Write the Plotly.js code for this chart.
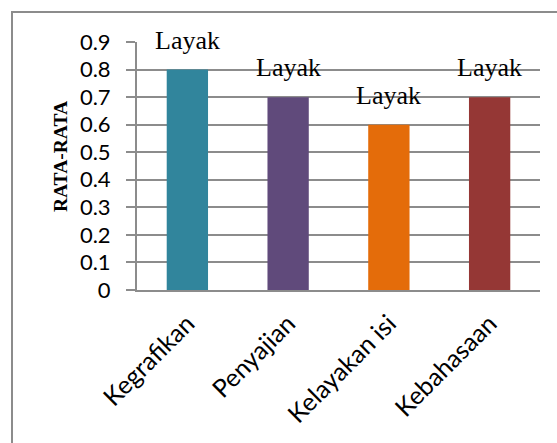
<!DOCTYPE html>
<html>
<head>
<meta charset="utf-8">
<script src="https://cdn.plot.ly/plotly-3.0.1.min.js"></script>
<style>html,body{margin:0;padding:0;background:#fff;}#chart{width:557px;height:443px;}</style>
</head>
<body>
<div id="chart"></div>
<script>
const categories = ["Kegrafikan", "Penyajian", "Kelayakan isi", "Kebahasaan"];
const values = [0.8, 0.7, 0.6, 0.7];
const labels = ["Layak", "Layak", "Layak", "Layak"];
const barColors = ["#31859C", "#604A7B", "#E46C0A", "#953735"];
const yTicks = [0, 0.1, 0.2, 0.3, 0.4, 0.5, 0.6, 0.7, 0.8, 0.9];
const yTickText = ["0", "0.1", "0.2", "0.3", "0.4", "0.5", "0.6", "0.7", "0.8", "0.9"];
const yTitle = "RATA-RATA";

const gridColor = "#8c8c8c";

const trace = {
  type: "bar",
  x: categories,
  y: values,
  width: 0.41,
  marker: { color: barColors },
  hoverinfo: "none"
};

const annotations = categories.map((c, i) => ({
  x: c, y: values[i], xref: "x", yref: "y",
  text: labels[i], showarrow: false,
  yanchor: "bottom", yshift: 13,
  font: { family: "Liberation Serif, Times New Roman, serif", size: 26, color: "#000" }
}));
annotations.push({
  xref: "paper", yref: "paper", x: -0.191, y: 0.536,
  xanchor: "center", yanchor: "middle", textangle: -90,
  text: "<b>" + yTitle + "</b>", showarrow: false,
  font: { family: "Liberation Serif, Times New Roman, serif", size: 19.5, color: "#000" }
});

const layout = {
  width: 557, height: 443,
  margin: { l: 137, r: 17, t: 42, b: 153 },
  paper_bgcolor: "#fff", plot_bgcolor: "#fff",
  showlegend: false,
  xaxis: {
    type: "category",
    tickangle: -45,
    tickfont: { family: "Lato, sans-serif", size: 25, color: "#000" },
    ticklabelstandoff: 7,
    showline: true, linecolor: gridColor, linewidth: 2,
    ticks: "", showgrid: false, zeroline: false
  },
  yaxis: {
    range: [0, 0.9001],
    tickmode: "array", tickvals: yTicks, ticktext: yTickText,
    tickfont: { family: "Lato, sans-serif", size: 22, color: "#000" },
    ticklabelstandoff: 11,
    ticks: "outside", ticklen: 9, tickwidth: 2, tickcolor: gridColor,
    showgrid: true, gridcolor: gridColor, gridwidth: 2,
    showline: true, linecolor: gridColor, linewidth: 2,
    zeroline: false
  },
  annotations: annotations,
  shapes: [{
    type: "rect", xref: "paper", yref: "paper",
    x0: (12 - 137) / 403, x1: (562 - 137) / 403,
    y0: -(448 - 290) / 248, y1: 1 + 30 / 248,
    line: { color: "#8c8c8c", width: 2 }, fillcolor: "rgba(0,0,0,0)", layer: "below"
  }]
};

Plotly.newPlot("chart", [trace], layout, { staticPlot: true, displayModeBar: false });
</script>
</body>
</html>
